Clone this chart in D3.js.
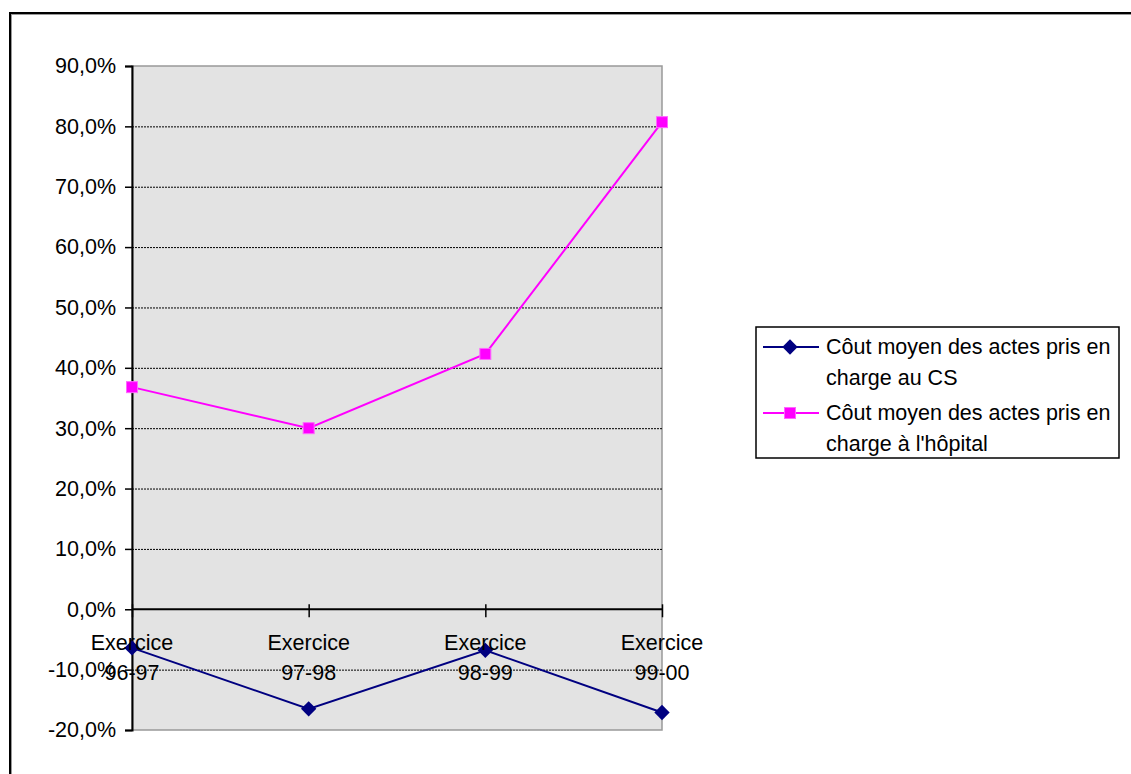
<!DOCTYPE html>
<html>
<head>
<meta charset="utf-8">
<script src="https://cdn.jsdelivr.net/npm/d3@7"></script>
<style>
  body { margin: 0; background: #fff; }
  svg { font-family: "Liberation Sans", Arial, sans-serif; }
</style>
</head>
<body>
<svg id="chart" width="1131" height="774"></svg>
<script>
// data
var categories = ["Exercice 96-97", "Exercice 97-98", "Exercice 98-99", "Exercice 99-00"];
var seriesNames = ["Côut moyen des actes pris en charge au CS", "Côut moyen des actes pris en charge à l'hôpital"];
var coutCS = [-6.4, -16.5, -6.8, -17.1];
var coutHopital = [36.8, 30.0, 42.3, 80.7];
var yTicks = [-20, -10, 0, 10, 20, 30, 40, 50, 60, 70, 80, 90];

(function () {
    var svg = d3.select("#chart");
    var fs = 21.5;

    // outer frame (runs off the right/bottom edge like the original)
    svg.append("rect").attr("x", 11).attr("y", 14).attr("width", 1140).attr("height", 800)
        .attr("fill", "none").attr("stroke", "#999").attr("stroke-width", 2);
    svg.append("rect").attr("x", 10).attr("y", 13).attr("width", 1140).attr("height", 800)
        .attr("fill", "none").attr("stroke", "#000").attr("stroke-width", 2);

    var plotL = 132, plotR = 662, plotT = 66, plotB = 730;

    var x = d3.scalePoint().domain(categories).range([plotL, plotR]);
    var y = d3.scaleLinear().domain([-20, 90]).range([plotB, plotT]);

    // plot area
    svg.append("rect").attr("x", plotL).attr("y", plotT).attr("width", plotR - plotL).attr("height", plotB - plotT)
        .attr("fill", "#e3e3e3").attr("stroke", "#999").attr("stroke-width", 1.5);

    // gridlines
    svg.append("g").selectAll("line").data(yTicks.filter(function(d) { return d != 0 && d != 90 && d != -20; }))
        .join("line")
        .attr("x1", plotL).attr("x2", plotR)
        .attr("y1", function(d) { return y(d) + 0.5; }).attr("y2", function(d) { return y(d) + 0.5; })
        .attr("stroke", "#000").attr("stroke-width", 1).attr("stroke-dasharray", "2,1");

    // y axis
    var yAxis = d3.axisLeft(y).tickValues(yTicks).tickSize(7).tickPadding(9)
        .tickFormat(function(d) { return d.toFixed(1).replace(".", ",") + "%"; });
    var gy = svg.append("g").attr("transform", "translate(" + plotL + ",0)").call(yAxis)
        .attr("font-size", fs).attr("font-family", "Liberation Sans, Arial, sans-serif");
    gy.select(".domain").attr("stroke", "#000").attr("stroke-width", 2);
    gy.selectAll(".tick line").attr("stroke", "#000").attr("stroke-width", 1.5);
    gy.selectAll(".tick text").attr("fill", "#000");

    // x axis on zero line
    var xAxis = d3.axisBottom(x).tickSize(8).tickFormat("");
    var gx = svg.append("g").attr("transform", "translate(0," + y(0) + ")").call(xAxis);
    gx.select(".domain").attr("stroke", "#000").attr("stroke-width", 2).attr("d", "M" + plotL + ",0H" + plotR);
    gx.selectAll(".tick line").attr("stroke", "#000").attr("stroke-width", 1.5).attr("y1", -5);

    var line = d3.line()
        .x(function(d, i) { return x(categories[i]); })
        .y(function(d) { return y(d); });

    // CS series: navy with diamonds
    svg.append("path").datum(coutCS).attr("d", line)
        .attr("fill", "none").attr("stroke", "#000080").attr("stroke-width", 2);
    svg.append("g").selectAll("path").data(coutCS).join("path")
        .attr("d", d3.symbol().type(d3.symbolDiamond2).size(150))
        .attr("transform", function(d, i) { return "translate(" + x(categories[i]) + "," + y(d) + ")"; })
        .attr("fill", "#000080");

    // hospital series: magenta with squares
    svg.append("path").datum(coutHopital).attr("d", line)
        .attr("fill", "none").attr("stroke", "#ff00ff").attr("stroke-width", 2);
    svg.append("g").selectAll("rect").data(coutHopital).join("rect")
        .attr("x", function(d, i) { return x(categories[i]) - 5.5; })
        .attr("y", function(d) { return y(d) - 5.5; })
        .attr("width", 11).attr("height", 11)
        .attr("fill", "#ff00ff").attr("stroke", "#ff66ff").attr("stroke-width", 1);

    // category labels (two lines), drawn over the lines as in the original
    var labels = svg.append("g").selectAll("text").data(categories).join("text")
        .attr("text-anchor", "middle").attr("font-size", fs).attr("fill", "#000");
    labels.each(function(d) {
        var parts = d.split(" ");
        var t = d3.select(this);
        t.append("tspan").attr("x", x(d)).attr("y", y(0) + 41).text(parts[0]);
        t.append("tspan").attr("x", x(d)).attr("y", y(0) + 71).text(parts[1]);
    });

    // legend
    var legend = svg.append("g");
    legend.append("rect").attr("x", 756).attr("y", 327).attr("width", 363).attr("height", 131)
        .attr("fill", "#fff").attr("stroke", "#000").attr("stroke-width", 1.5);

    var legendItems = [
      { name: seriesNames[0], color: "#000080", mark: "diamond", ly: 347 },
      { name: seriesNames[1], color: "#ff00ff", mark: "square", ly: 413 }
    ];
    legendItems.forEach(function(it) {
        legend.append("line").attr("x1", 763).attr("x2", 819).attr("y1", it.ly).attr("y2", it.ly)
            .attr("stroke", it.color).attr("stroke-width", 2);
        if (it.mark == "diamond") {
            legend.append("path").attr("d", d3.symbol().type(d3.symbolDiamond2).size(150))
                .attr("transform", "translate(790," + it.ly + ")").attr("fill", it.color);
        } else {
            legend.append("rect").attr("x", 784.5).attr("y", it.ly - 5.5).attr("width", 11).attr("height", 11)
                .attr("fill", it.color).attr("stroke", "#ff66ff");
        }
        var words = it.name.split(" ");
        var t = legend.append("text").attr("font-size", fs).attr("fill", "#000");
        t.append("tspan").attr("x", 826).attr("y", it.ly + 7).text(words.slice(0, 6).join(" "));
        t.append("tspan").attr("x", 826).attr("y", it.ly + 38).text(words.slice(6).join(" "));
    });
})();
</script>
</body>
</html>
